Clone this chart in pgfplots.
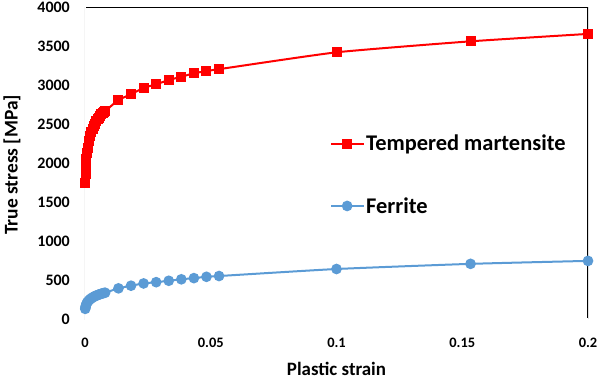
\documentclass[border=0pt]{standalone}
\usepackage{fontspec}
\setmainfont{Carlito}
\usepackage{pgfplots}
\pgfplotsset{compat=1.18}
\usepackage{pgfplotstable}
\definecolor{tmred}{RGB}{255,0,0}
\definecolor{ferblue}{RGB}{91,155,213}

\pgfplotstableread{
x y
0.0001 1740
0.0002 1860
0.0003 1947
0.0005 2047
0.00075 2129
0.001 2190
0.0015 2276
0.002 2341
0.0025 2393
0.003 2434
0.0035 2472
0.004 2504
0.0045 2533
0.005 2559
0.0055 2583
0.006 2604
0.0065 2625
0.007 2644
0.0075 2655
0.008 2665
0.0133 2808
0.0183 2881
0.0233 2963
0.0283 3009
0.0333 3064
0.0383 3106
0.0433 3150
0.0483 3179
0.0533 3203
0.1 3419
0.1533 3560
0.2 3655
}\martensite

\pgfplotstableread{
x y
0.0001 130
0.0002 150
0.0003 165
0.0005 188
0.00075 205
0.001 218
0.0015 237
0.002 252
0.0025 264
0.003 275
0.0035 285
0.004 293
0.0045 300
0.005 307
0.0055 313
0.006 318
0.0065 324
0.007 329
0.0075 333
0.008 337
0.0133 393
0.0183 427
0.0233 456
0.0283 472
0.0333 490
0.0383 509
0.0433 524
0.0483 541
0.0533 551
0.1 641
0.1533 707
0.2 745
}\ferrite

\begin{document}
\begin{tikzpicture}
\begin{axis}[
  scale only axis,
  width=503bp, height=312bp,
  xmin=0, xmax=0.2, ymin=0, ymax=4000,
  axis line style={draw=none},
  xtick={0,0.05,0.1,0.15,0.2},
  xticklabels={0,0.05,0.1,0.15,0.2},
  ytick={0,500,1000,1500,2000,2500,3000,3500,4000},
  yticklabels={0,500,1000,1500,2000,2500,3000,3500,4000},
  major tick length=0pt,
  tick style={draw=none},
  /pgf/number format/assume math mode=true,
  xticklabel style={font=\fontsize{14.5}{16}\selectfont\bfseries, anchor=center, yshift=-24bp},
  yticklabel style={font=\fontsize{16}{18}\selectfont\bfseries, anchor=east, inner sep=0pt, xshift=-15bp},
  xlabel={Plastic strain},
  ylabel={True stress [MPa]},
  xlabel style={font=\fontsize{19}{21}\selectfont\bfseries, at={(axis description cs:0.5,-0.160)}, anchor=center},
  ylabel style={font=\fontsize{19.5}{21}\selectfont\bfseries, at={(axis description cs:-0.145,0.494)}, anchor=center, rotate=0},
  legend cell align=left,
  legend style={draw=none, fill=none, at={(0.487,0.590)}, anchor=north west,
    font=\fontsize{22.5}{25}\selectfont\bfseries, row sep=45bp, inner sep=0pt,
    nodes={inner xsep=2bp, inner ysep=0pt}},
  legend image code/.code={
    \draw[mark repeat=2, mark phase=2] plot coordinates {(0bp,0bp) (16bp,0bp) (32bp,0bp)};
  },
]
\addplot[tmred, line width=2bp, smooth, tension=0.3, mark=square*, mark size=4bp, mark options={solid}] table {\martensite};
\addlegendentry{Tempered martensite}
\addplot[ferblue, line width=2bp, smooth, tension=0.3, mark=*, mark size=4.3bp, mark options={solid}] table {\ferrite};
\addlegendentry{Ferrite}
\draw[black, line width=2.5bp] (rel axis cs:0,1) -- (rel axis cs:1,1) -- (rel axis cs:1,0);
\draw[gray!70, line width=0.6bp, double, double distance=1.2bp] (rel axis cs:0,1) -- (rel axis cs:0,0) -- (rel axis cs:1,0);
\coordinate (O) at (rel axis cs:0,0);
\end{axis}
\pgfresetboundingbox
\path (O) ++(-85bp,-60bp) rectangle ++(600bp,379bp);
\end{tikzpicture}
\end{document}
